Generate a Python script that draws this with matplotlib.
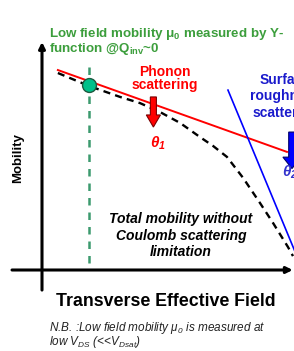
import numpy as np
import matplotlib.pyplot as plt

plt.rcParams['font.family'] = ['Liberation Sans', 'DejaVu Sans']
plt.rcParams['mathtext.default'] = 'regular'

# schematic data, arbitrary units (field 0..10, mobility 0..10)
field_total = [0.63, 1.87, 3.10, 3.89, 4.68, 5.48, 6.27, 6.79, 7.34, 7.98, 8.65, 9.17, 9.76, 9.96]
mob_total = [8.64, 8.07, 7.59, 7.32, 6.93, 6.45, 5.83, 5.44, 4.96, 4.04, 2.94, 2.06, 1.01, 0.61]

field_phonon = [0.63, 9.72]
mob_phonon = [8.77, 5.18]

field_sr = [7.38, 10.08]
mob_sr = [7.89, 0.70]

field_mu0 = 1.87
mob_mu0 = 8.11

W, H = 294, 351
fig = plt.figure(figsize=(W / 100, H / 100), dpi=100)
ax = fig.add_axes([42 / W, 81 / H, 252 / W, 228 / H])
ax.set_xlim(0, 10)
ax.set_ylim(0, 10)
ax.axis('off')

def px(x, y):
    return x / W, 1 - y / H

# axes with arrows
ax.annotate('', xy=(0, 10), xytext=(0, -0.88), annotation_clip=False,
            arrowprops=dict(arrowstyle='-|>', lw=2.2, color='black', mutation_scale=9,
                            shrinkA=0, shrinkB=0))
ax.annotate('', xy=(9.95, 0), xytext=(-1.19, 0), annotation_clip=False,
            arrowprops=dict(arrowstyle='-|>', lw=2.2, color='black', mutation_scale=9,
                            shrinkA=0, shrinkB=0))

# curves
ax.plot(field_phonon, mob_phonon, color='#ff0000', lw=1.4, clip_on=False)
ax.plot(field_sr, mob_sr, color='#0000ff', lw=1.2, clip_on=False)
ax.plot(field_total, mob_total, color='black', lw=1.7, dashes=(3, 2.2), clip_on=False)

# mu0 extraction point
ax.plot([field_mu0, field_mu0], [0.31, 8.9], color='#3c9a6e', lw=1.8, dashes=(3, 2.8))
ax.plot(field_mu0, mob_mu0, 'o', ms=10, mfc='#00c08a', mec='#1f5a40', mew=1, zorder=5)

# block arrows
ax.arrow(4.42, 7.59, 0, -1.32, width=0.24, head_width=0.56, head_length=0.53,
         length_includes_head=True, fc='#ff0000', ec='#7a0000', lw=0.8, zorder=4)
ax.arrow(9.92, 6.05, 0, -1.6, width=0.26, head_width=0.72, head_length=0.5,
         length_includes_head=True, fc='#0000ff', ec='#000066', lw=0.8, zorder=4, clip_on=False)

# texts
green = '#3c9e3c'
fig.text(*px(49, 37), u'Low field mobility \u03bc$_0$ measured by Y-', color=green,
         fontsize=9.6, fontweight='bold', va='baseline')
fig.text(*px(49, 52), 'function @Q$_{inv}$~0', color=green,
         fontsize=9.6, fontweight='bold', va='baseline')

fig.text(*px(165, 76), 'Phonon', color='#ff0000', fontsize=10, fontweight='bold',
         ha='center', va='baseline')
fig.text(*px(165, 89), 'scattering', color='#ff0000', fontsize=10, fontweight='bold',
         ha='center', va='baseline')
fig.text(*px(158, 148), u'\u03b8$_1$', color='#ff0000', fontsize=11, fontweight='bold',
         fontstyle='italic', ha='center', va='baseline')

blue_txt = '#1a1acc'
for line, yb in zip(['Surface', 'roughness', 'scattering'], [84, 100, 117]):
    fig.text(*px(285.5, yb), line, color=blue_txt, fontsize=10, fontweight='bold',
             ha='center', va='baseline')
fig.text(*px(282, 177), u'\u03b8$_2$', color='#3333cc', fontsize=11, fontweight='bold',
         fontstyle='italic', ha='left', va='baseline')

for line, yb in zip(['Total mobility without', 'Coulomb scattering', 'limitation'],
                    [223, 240, 256]):
    fig.text(*px(181, yb), line, color='black', fontsize=10, fontweight='bold',
             fontstyle='italic', ha='center', va='baseline')

fig.text(*px(18, 158), 'Mobility', fontsize=9.5, fontweight='bold', rotation=90,
         ha='center', va='center')
fig.text(*px(165.5, 306), 'Transverse Effective Field', fontsize=12.8, fontweight='bold',
         ha='center', va='baseline')

fig.text(*px(49, 331), u'N.B. :Low field mobility \u03bc$_0$ is measured at', fontsize=8.5,
         fontstyle='italic', va='baseline', color='#222222')
fig.text(*px(49, 345), 'low V$_{DS}$ (<<V$_{Dsat}$)', fontsize=8.5,
         fontstyle='italic', va='baseline', color='#222222')

fig.savefig('out.png', dpi=100)
